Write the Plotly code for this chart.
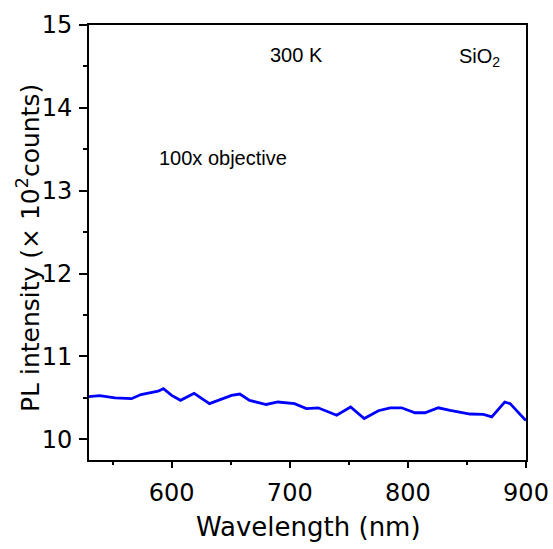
import plotly.graph_objects as go

# Data
wavelength_nm = [530, 539, 552, 566, 574, 583, 588.5, 593, 600, 607.5, 619, 632, 642,
                 650.7, 657.7, 666, 680, 690, 704, 714, 724, 739.7, 751.5, 763, 775,
                 785, 794.7, 806, 814.5, 825.8, 835.7, 852.6, 864, 871, 882, 886.6, 899, 900]
pl_intensity = [10.514, 10.526, 10.50, 10.49, 10.54, 10.57, 10.58, 10.61, 10.53, 10.47,
                10.555, 10.43, 10.48, 10.53, 10.546, 10.47, 10.42, 10.45, 10.43, 10.37,
                10.38, 10.29, 10.39, 10.25, 10.345, 10.38, 10.38, 10.32, 10.32, 10.38,
                10.35, 10.305, 10.30, 10.27, 10.45, 10.43, 10.24, 10.23]

x_range = [530, 900]
y_range = [9.75, 15]
x_ticks = [600, 700, 800, 900]
y_ticks = [10, 11, 12, 13, 14, 15]

AX_FONT = "DejaVu Sans"
ANN_FONT = "Liberation Sans, Arial, sans-serif"

fig = go.Figure()
fig.add_trace(go.Scatter(x=wavelength_nm, y=pl_intensity, mode="lines",
                         line=dict(color="#0000FF", width=2.8), showlegend=False))

axis_common = dict(showline=True, linecolor="black", linewidth=2, mirror=True,
                   ticks="outside", tickcolor="black", tickwidth=2,
                   showgrid=False, zeroline=False, automargin=False,
                   tickfont=dict(family=AX_FONT, size=24, color="black"))

fig.update_xaxes(range=x_range, tickvals=x_ticks, ticklen=6,
                 minor=dict(dtick=50, tick0=0, ticks="outside", ticklen=3,
                            tickwidth=2, tickcolor="black"),
                 ticklabelstandoff=4, **axis_common)
fig.update_yaxes(range=y_range, tickvals=y_ticks, ticklen=8,
                 minor=dict(dtick=0.5, tick0=0, ticks="outside", ticklen=4,
                            tickwidth=2, tickcolor="black"),
                 ticklabelstandoff=2, **axis_common)

W, H = 553, 549
L, R, T, B = 89, 27, 25, 89
pw, ph = W - L - R, H - T - B

def px(xp):
    return (xp - L) / pw

def py(yp):
    return (H - B - yp) / ph

annotations = [
    dict(text="Wavelength (nm)", x=px(308.5), y=py(527), font=dict(family=AX_FONT, size=26)),
    dict(text="PL intensity (× 10<sup>2</sup>counts)", x=px(28), y=py(248), textangle=-90,
         font=dict(family=AX_FONT, size=25)),
    dict(text="300 K", x=px(296.5), y=py(55), font=dict(family=ANN_FONT, size=20)),
    dict(text="SiO<sub>2</sub>", x=px(457), y=py(57), xanchor="left", font=dict(family=ANN_FONT, size=20)),
    dict(text="100x objective", x=px(223), y=py(158.3), font=dict(family=ANN_FONT, size=20)),
]
for a in annotations:
    a.setdefault("xanchor", "center")
    a.setdefault("yanchor", "middle")
    a["xref"] = "paper"
    a["yref"] = "paper"
    a["showarrow"] = False
    a["font"]["color"] = "black"

fig.update_layout(width=W, height=H, margin=dict(l=L, r=R, t=T, b=B, autoexpand=False),
                  paper_bgcolor="white", plot_bgcolor="white",
                  annotations=annotations)

fig.write_html("out.html")
